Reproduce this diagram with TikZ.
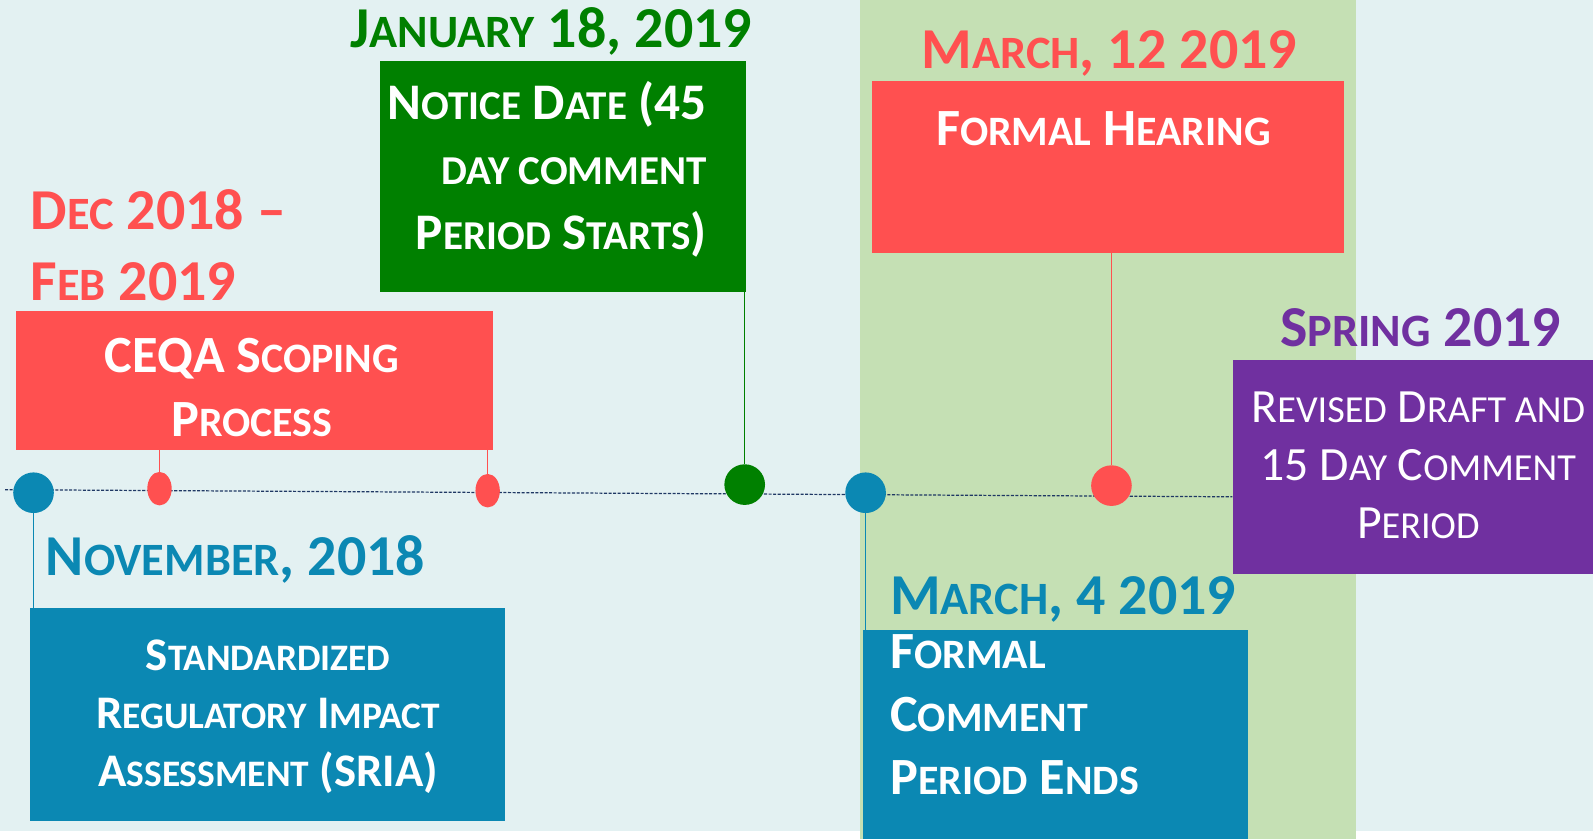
\documentclass[tikz,border=0pt]{standalone}
\usepackage{fontspec}
\setmainfont{Carlito}
\usetikzlibrary{shapes.geometric,positioning}

\definecolor{bgcyan}{HTML}{E3F1F2}
\definecolor{bandgreen}{HTML}{C5E0B4}
\definecolor{cred}{HTML}{FF5050}
\definecolor{cgreen}{HTML}{008000}
\definecolor{cblue}{HTML}{0B88B3}
\definecolor{cpurple}{HTML}{7030A0}
\definecolor{cnavy}{HTML}{1F3864}

% fake small capitals, as in the slide
\newcommand{\lc}[1]{\scalebox{0.8}{#1}}

\tikzset{
	box/.style={inner sep=0pt, anchor=north west},
	datelabel/.style={inner sep=0pt, font=\fontsize{57}{70}\selectfont\bfseries},
	boxtext/.style={inner sep=0pt, text=white, font=\fontsize{51.5}{63}\selectfont\bfseries},
	bigdot/.style={circle, inner sep=0pt, minimum size=40pt},
	smalldot/.style={ellipse, inner sep=0pt, minimum width=24pt, minimum height=33pt},
	link/.style={line width=1.5pt}
}

\begin{document}
\begin{tikzpicture}[x=1pt,y=-1pt]
	\useasboundingbox (0,0) rectangle (1568,826);
	% background and highlighted period
	\fill[white] (0,0) rectangle (1568,826);
	\fill[bgcyan] (0,0) rectangle (1568,818);
	\fill[bandgreen] (846,0) rectangle (1335,826);

	% time line
	\coordinate (tlstart) at (5,482);
	\coordinate (tlend) at (1213,489);
	\draw[cnavy, line width=1.2pt, dash pattern=on 3pt off 1.5pt] (tlstart) -- (tlend);

	% boxes
	\node (ceqa)		[box, fill=cred, minimum width=469pt, minimum height=137pt]		at (16,306) {};
	\node (notice)	[box, fill=cgreen, minimum width=360pt, minimum height=227pt]	at (374,60) {};
	\node (hearing)	[box, fill=cred, minimum width=465pt, minimum height=169pt]		at (858,80) {};
	\node (revised)	[box, fill=cpurple, minimum width=355pt, minimum height=211pt]	at (1213,354) {};
	\node (sria)		[box, fill=cblue, minimum width=468pt, minimum height=210pt]	at (29,598) {};
	\node (comment)	[box, fill=cblue, minimum width=379pt, minimum height=206pt]	at (849,620) {};

	% texts in the boxes
	\node (ceqatext)		[boxtext, align=center, anchor=north]	at (248,333)
		{CEQA S\lc{COPING}\\P\lc{ROCESS}};
	\node (noticetext)	[boxtext, font=\fontsize{50.5}{64}\selectfont\bfseries,
											align=right, anchor=north east]	at (696,80)
		{N\lc{OTICE} D\lc{ATE} (45\\\lc{DAY COMMENT}\\P\lc{ERIOD} S\lc{TARTS})};
	\node (hearingtext)	[boxtext, anchor=base]	at (1086,143)
		{F\lc{ORMAL} H\lc{EARING}};
	\node (revisedtext)	[inner sep=0pt, text=white, font=\fontsize{47}{57}\selectfont,
											align=center, anchor=north]	at (1396,386)
		{R\lc{EVISED} D\lc{RAFT AND}\\15 D\lc{AY} C\lc{OMMENT}\\P\lc{ERIOD}};
	\node (sriatext)		[boxtext, font=\fontsize{46}{57}\selectfont\bfseries,
											align=center, anchor=north]	at (264,630)
		{S\lc{TANDARDIZED}\\R\lc{EGULATORY} I\lc{MPACT}\\A\lc{SSESSMENT} (SRIA)};
	\node (commenttext)	[boxtext, font=\fontsize{51.5}{62}\selectfont\bfseries,
											align=left, anchor=north west]	at (876,624)
		{F\lc{ORMAL}\\C\lc{OMMENT}\\P\lc{ERIOD} E\lc{NDS}};

	% dates
	\node (jan)		[datelabel, text=cgreen, anchor=base west]	at (345,47)	{J\lc{ANUARY} 18, 2019};
	\node (mar12)	[datelabel, text=cred, anchor=base]				at (1092,67)	{M\lc{ARCH}, 12 2019};
	\node (dec)		[datelabel, text=cred, align=left, anchor=north west]	at (30,186)
		{D\lc{EC} 2018 --\\F\lc{EB} 2019};
	\node (spring)	[datelabel, text=cpurple, anchor=base west]	at (1260,341)	{S\lc{PRING} 2019};
	\node (nov)		[datelabel, text=cblue, anchor=base west]		at (45,566)	{N\lc{OVEMBER}, 2018};
	\node (mar4)	[datelabel, text=cblue, anchor=base west]		at (876,605)	{M\lc{ARCH}, 4 2019};

	% dots on the time line
	\node (novdot)		[bigdot, fill=cblue]		at (33,485)		{};
	\node (decdot)		[smalldot, fill=cred]		at (157,481)	{};
	\node (febdot)		[smalldot, fill=cred]		at (480,483)	{};
	\node (jandot)		[bigdot, fill=cgreen]		at (733,477)	{};
	\node (mar4dot)		[bigdot, fill=cblue]		at (852,485)	{};
	\node (mar12dot)	[bigdot, fill=cred]			at (1094,478)	{};

	% links between dots and boxes
	\draw[link, cred]		(decdot) -- (decdot |- ceqa.south);
	\draw[link, cred]		(febdot) -- (febdot |- ceqa.south);
	\draw[link, cgreen]	(jandot) -- (jandot |- notice.south);
	\draw[link, cred]		(mar12dot) -- (mar12dot |- hearing.south);
	\draw[link, cblue]	(novdot) -- (novdot |- sria.north);
	\draw[link, cblue]	(mar4dot) -- (mar4dot |- comment.north);
\end{tikzpicture}
\end{document}
